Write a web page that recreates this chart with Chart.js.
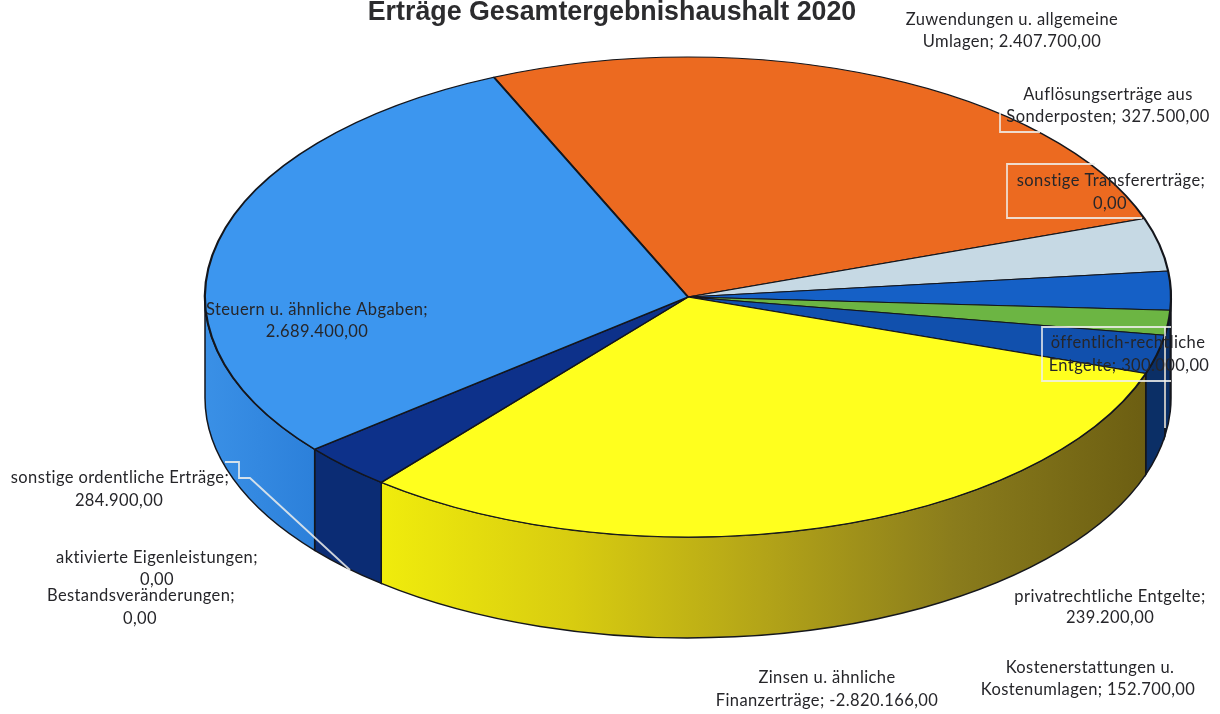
<!DOCTYPE html>
<html>
<head>
<meta charset="utf-8">
<title>Erträge Gesamtergebnishaushalt 2020</title>
<script src="https://cdn.jsdelivr.net/npm/chart.js@4/dist/chart.umd.min.js"></script>
<style>
  html, body { margin: 0; padding: 0; background: #fff; }
  canvas { display: block; }
</style>
</head>
<body>
<canvas id="chart" width="1220" height="714"></canvas>
<script>
const categories = [
  'Zuwendungen u. allgemeine Umlagen',
  'Auflösungserträge aus Sonderposten',
  'sonstige Transfererträge',
  'privatrechtliche Entgelte',
  'Kostenerstattungen u. Kostenumlagen',
  'öffentlich-rechtliche Entgelte',
  'Zinsen u. ähnliche Finanzerträge',
  'sonstige ordentliche Erträge',
  'aktivierte Eigenleistungen',
  'Bestandsveränderungen',
  'Steuern u. ähnliche Abgaben'
];
// öffentlich-rechtliche Entgelte: Ziffern im Original verdeckt, Wert aus der Segmentgrösse geschätzt
const values = [2407700, 327500, 0, 239200, 152700, 240000, -2820166, 284900, 0, 0, 2689400];
const topColors = ['#ec6a20', '#c6d9e4', '#c6d9e4', '#1560c6', '#6cb543', '#1150ad', '#ffff1e', '#0d318a', '#0d318a', '#0d318a', '#3c96ef'];

// Seitenwand je Segment: Farbverlauf von links nach rechts
const wallColors = [
  ['#a04a16', '#a04a16'],
  ['#8a9ba5', '#8a9ba5'],
  ['#8a9ba5', '#8a9ba5'],
  ['#0b2f66', '#0b2f66'],
  ['#0b2f66', '#0b2f66'],
  ['#0b2f66', '#0b2f66'],
  ['#f0ec0c', '#d8cc10', '#b3a418', '#8a7c1c', '#6c5e12'],
  ['#0b2c74', '#0b2c74'],
  ['#0b2c74', '#0b2c74'],
  ['#0b2c74', '#0b2c74'],
  ['#3a90e6', '#2c80da']
];

const titleText = 'Erträge Gesamtergebnishaushalt 2020';
const labelLines = [
  ['Zuwendungen u. allgemeine', 1012, 20], ['Umlagen; 2.407.700,00', 1012, 42],
  ['Auflösungserträge aus', 1108, 95], ['Sonderposten; 327.500,00', 1108, 117],
  ['sonstige Transfererträge;', 1111, 181], ['0,00', 1110, 204],
  ['öffentlich-rechtliche', 1128, 343], ['Entgelte; 300.000,00', 1129, 366],
  ['privatrechtliche Entgelte;', 1110, 597], ['239.200,00', 1110, 618],
  ['Kostenerstattungen u.', 1090, 668], ['Kostenumlagen; 152.700,00', 1088, 690],
  ['Zinsen u. ähnliche', 827, 678], ['Finanzerträge; -2.820.166,00', 827, 701],
  ['sonstige ordentliche Erträge;', 120, 478], ['284.900,00', 119, 501],
  ['aktivierte Eigenleistungen;', 157, 558], ['0,00', 157, 580],
  ['Bestandsveränderungen;', 141, 596], ['0,00', 140, 619],
  ['Steuern u. ähnliche Abgaben;', 317, 310], ['2.689.400,00', 317, 332]
];

// weisse Rahmen und Führungslinien der Beschriftungen
const labelFrames = [
  [[1000, 113], [1000, 132], [1040, 132]],
  [[1095, 164], [1007, 164], [1007, 218], [1142, 218]],
  [[1171, 327], [1042, 327], [1042, 381], [1171, 381]],
  [[1165, 327], [1165, 428]],
  [[225, 462], [239, 462], [239, 478], [250, 478], [350, 570]]
];

const pieShape = { x: 688, y: 297, rx: 483, ry: 240, depth: 101 };

const pie3d = {
  id: 'pie3d',
  beforeDatasetsDraw(chart) {
    const { ctx } = chart;
    const arcs = chart.getDatasetMeta(0).data;
    const { x, y, rx, ry, depth } = pieShape;
    ctx.save();
    ctx.strokeStyle = '#14161c';
    ctx.lineWidth = 1.5;
    arcs.forEach((arc, i) => {
      // nur die vordere Hälfte der Wand ist sichtbar
      const segs = [[arc.startAngle, arc.endAngle], [arc.startAngle - 2 * Math.PI, arc.endAngle - 2 * Math.PI]];
      segs.forEach(([s, e]) => {
        const a1 = Math.max(s, 0);
        const a2 = Math.min(e, Math.PI);
        if (a2 <= a1) return;
        const grad = ctx.createLinearGradient(
          x + rx * Math.cos(a1), 0, x + rx * Math.cos(a2), 0);
        const stops = wallColors[i].slice().reverse();
        stops.forEach((c, k) => grad.addColorStop(k / (stops.length - 1), c));
        ctx.beginPath();
        ctx.ellipse(x, y, rx, ry, 0, a1, a2);
        ctx.ellipse(x, y + depth, rx, ry, 0, a2, a1, true);
        ctx.closePath();
        ctx.fillStyle = grad;
        ctx.fill();
        ctx.stroke();
      });
    });
    ctx.restore();
  },
  beforeDatasetDraw(chart) {
    const { ctx } = chart;
    const arc = chart.getDatasetMeta(0).data[0];
    ctx.save();
    ctx.translate(pieShape.x, pieShape.y);
    ctx.scale(pieShape.rx / arc.outerRadius, pieShape.ry / arc.outerRadius);
    ctx.translate(-arc.x, -arc.y);
  },
  afterDatasetDraw(chart) {
    chart.ctx.restore();
  },
  afterDraw(chart) {
    const { ctx } = chart;
    ctx.save();
    ctx.strokeStyle = 'rgba(240,240,236,0.85)';
    ctx.lineWidth = 1.8;
    labelFrames.forEach(points => {
      ctx.beginPath();
      points.forEach(([px, py], i) => i ? ctx.lineTo(px, py) : ctx.moveTo(px, py));
      ctx.stroke();
    });
    ctx.font = '16.5px Lato';
    ctx.letterSpacing = '0.4px';
    ctx.fillStyle = '#26262a';
    ctx.textAlign = 'center';
    ctx.textBaseline = 'middle';
    labelLines.forEach(([text, px, py]) => ctx.fillText(text, px, py));
    ctx.restore();
  }
};

new Chart(document.getElementById('chart'), {
  type: 'pie',
  data: {
    labels: categories,
    datasets: [{
      data: values.map(v => Math.abs(v)),
      backgroundColor: topColors,
      borderColor: '#14161c',
      borderWidth: 1.1
    }]
  },
  options: {
    responsive: false,
    animation: false,
    rotation: -23.7,
    layout: { padding: { left: 4, right: 0, top: 0, bottom: 200 } },
    plugins: {
      legend: { display: false },
      tooltip: { enabled: false },
      title: {
        display: true,
        text: titleText,
        color: '#2c2c2e',
        font: { family: 'Liberation Sans', size: 26.8, weight: 'bold' },
        padding: { top: -3, bottom: 7 }
      }
    }
  },
  plugins: [pie3d]
});
</script>
</body>
</html>
